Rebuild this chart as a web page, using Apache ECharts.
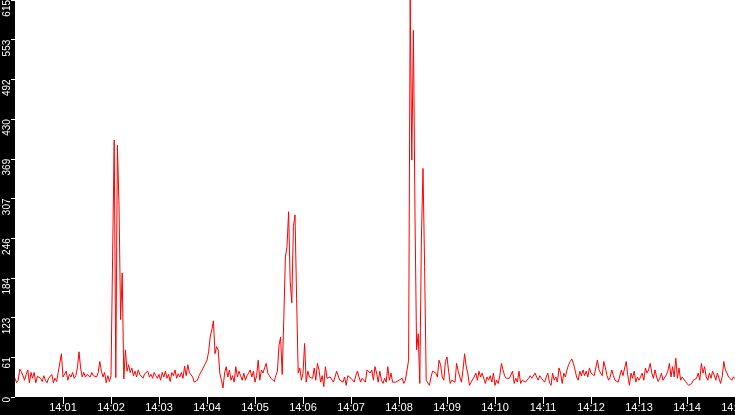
<!DOCTYPE html>
<html>
<head>
<meta charset="utf-8">
<script src="https://cdn.jsdelivr.net/npm/echarts@6/dist/echarts.min.js"></script>
<style>
html,body{margin:0;padding:0;background:#000;}
#chart{width:735px;height:415px;}
</style>
</head>
<body>
<div id="chart"></div>
<script>
// Time axis: seconds after 14:00:00, one sample every 2 seconds
const START_HOUR = 14;
const STEP_SECONDS = 2;
const X_MIN_SECONDS = 0;
const X_MAX_SECONDS = 900;
const X_TICK_SECONDS = 60;

// Y axis ticks (labels shown truncated: 0, 61, 123, 184 ...)
const Y_MAX = 615;
const Y_TICK = 61.5;

// Series values, one per 2 s sample
const values = [
  // 14:00
  29,22,26,43,39,33,26,35,42,22,38,29,38,22,32,35,29,24,33,26,22,29,26,35,22,29,24,38,40,67,
  // 14:01
  31,29,40,26,35,31,38,29,33,45,70,45,31,38,31,35,38,31,38,33,35,31,38,55,40,31,38,22,33,24,
  // 14:02
  33,217,398,30,390,297,120,192,28,73,40,50,38,45,33,40,31,42,35,38,29,36,33,40,31,35,29,38,33,29,
  // 14:03
  35,26,38,31,40,29,35,24,38,33,42,29,36,31,38,29,48,33,50,38,37,31,23,21,26,33,31,42,44,52,
  // 14:04
  57,70,93,104,118,67,78,73,37,26,14,37,47,31,42,26,33,23,47,31,40,33,26,37,26,33,37,42,31,40,
  // 14:05
  23,33,57,26,42,37,45,52,37,33,29,26,24,33,40,80,93,35,122,217,233,287,179,146,264,282,153,37,45,26,
  // 14:06
  37,83,23,40,31,33,29,45,26,52,42,23,33,16,47,29,26,31,33,23,31,40,37,26,29,23,31,18,33,33,
  // 14:07
  29,26,23,33,40,31,23,29,29,23,42,45,37,42,26,47,37,23,40,26,21,29,23,47,26,37,23,26,23,21,
  // 14:08
  26,23,29,21,26,28,57,615,367,568,279,73,98,21,246,354,202,26,23,18,31,40,37,37,31,57,50,31,26,55,
  // 14:09
  62,40,21,26,23,23,52,40,31,23,42,67,47,37,18,23,23,31,37,26,40,31,37,29,21,31,26,33,23,37,
  // 14:10
  18,26,21,33,52,42,33,29,26,29,26,40,21,29,23,40,21,26,29,23,26,29,33,29,31,37,31,26,33,29,
  // 14:11
  31,23,31,37,23,18,37,26,31,23,45,37,21,37,31,42,50,55,59,52,42,31,26,40,33,42,33,40,31,45,
  // 14:12
  37,40,33,31,57,42,37,33,55,45,33,26,31,42,33,26,23,23,23,42,33,45,55,33,18,37,29,40,23,31,
  // 14:13
  26,31,37,26,45,37,42,52,37,29,42,31,24,29,37,26,29,34,40,52,31,47,31,60,29,45,26,31,31,24,
  // 14:14 - 14:15
  21,18,16,21,26,24,29,37,26,52,37,47,31,26,37,29,40,34,26,37,29,21,31,55,42,37,31,29,26,31,29
];

const seriesData = values.map((v, i) => [i * STEP_SECONDS, v]);

function fmtTime(sec) {
  const m = Math.round(sec / 60);
  const h = START_HOUR + Math.floor(m / 60);
  const mm = m % 60;
  return h + ':' + (mm < 10 ? '0' : '') + mm;
}

const chart = echarts.init(document.getElementById('chart'), null, {renderer: 'canvas'});
chart.setOption({
  animation: false,
  backgroundColor: '#000000',
  grid: {
    left: 15, right: 0, top: 0, bottom: 18,
    show: true, backgroundColor: '#ffffff', borderWidth: 0,
    containLabel: false,
    outerBoundsMode: 'none'
  },
  xAxis: {
    type: 'value',
    min: X_MIN_SECONDS, max: X_MAX_SECONDS, interval: X_TICK_SECONDS,
    axisLine: {show: false},
    splitLine: {show: false},
    axisTick: {show: true, length: 7, lineStyle: {color: '#ffffff', width: 1}},
    axisLabel: {
      color: '#ffffff', fontFamily: 'Liberation Sans, Arial, sans-serif', fontSize: 11,
      margin: 5, showMinLabel: false, showMaxLabel: true, hideOverlap: false,
      formatter: fmtTime
    }
  },
  yAxis: {
    type: 'value',
    min: 0, max: Y_MAX, interval: Y_TICK,
    axisLine: {show: false},
    splitLine: {show: false},
    axisTick: {show: true, length: 4, lineStyle: {color: '#ffffff', width: 1}},
    axisLabel: {
      color: '#ffffff', fontFamily: 'Liberation Sans, Arial, sans-serif', fontSize: 10,
      rotate: 90, margin: 3, align: 'right', verticalAlign: 'bottom',
      showMinLabel: true, showMaxLabel: true,
      formatter: v => String(Math.floor(v))
    }
  },
  series: [{
    type: 'line',
    data: seriesData,
    showSymbol: false,
    symbol: 'none',
    sampling: null,
    lineStyle: {color: '#ff0000', width: 1},
    clip: true
  }]
});
</script>
</body>
</html>
